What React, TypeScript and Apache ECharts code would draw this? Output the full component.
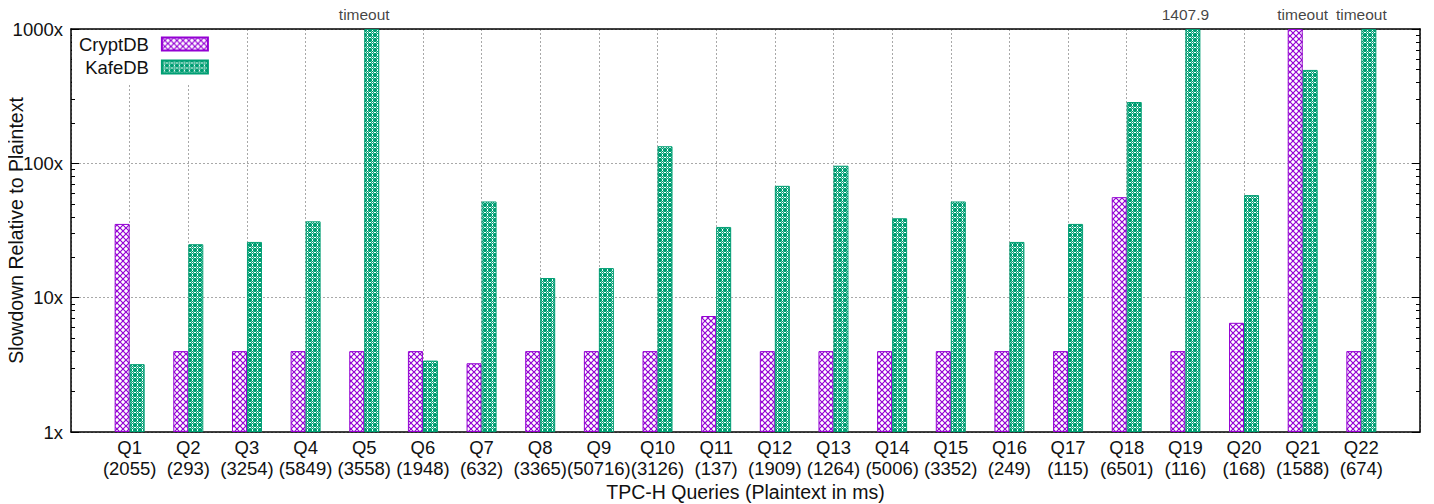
import React, { useEffect, useRef } from "react";
import * as echarts from "echarts";

const queries = ["Q1","Q2","Q3","Q4","Q5","Q6","Q7","Q8","Q9","Q10","Q11","Q12","Q13","Q14","Q15","Q16","Q17","Q18","Q19","Q20","Q21","Q22"];
const plaintextMs = [2055, 293, 3254, 5849, 3558, 1948, 632, 3365, 50716, 3126, 137, 1909, 1264, 5006, 3352, 249, 115, 6501, 116, 168, 1588, 674];
// null = timeout
const cryptdb: (number | null)[] = [35.4, 4, 4, 4, 4, 4, 3.25, 4, 4, 4, 7.3, 4, 4, 4, 4, 4, 4, 56, 4, 6.5, null, 4];
const kafedb: (number | null)[] = [3.2, 25, 26, 37, null, 3.4, 52, 14, 16.6, 134, 33.6, 68, 96, 39, 52, 26, 35.4, 286, 1407.9, 58, 496, null];
const yTicks = [1, 10, 100, 1000];
const yMinorTicks = [2, 3, 4, 5, 6, 7, 8, 9, 20, 30, 40, 50, 60, 70, 80, 90, 200, 300, 400, 500, 600, 700, 800, 900];

const Y_MAX = 1000;
const FONT = "'Liberation Sans', Arial, sans-serif";

function makeCrossHatch(): HTMLCanvasElement {
  const c = document.createElement("canvas");
  c.width = 6; c.height = 6;
  const ctx = c.getContext("2d")!;
  ctx.fillStyle = "#ffffff";
  ctx.fillRect(0, 0, 6, 6);
  ctx.strokeStyle = "#9400d3";
  ctx.lineWidth = 1.2;
  ctx.beginPath();
  ctx.moveTo(-1, -1); ctx.lineTo(7, 7);
  ctx.moveTo(7, -1); ctx.lineTo(-1, 7);
  ctx.stroke();
  return c;
}

function makeDots(): HTMLCanvasElement {
  const c = document.createElement("canvas");
  c.width = 5; c.height = 5;
  const ctx = c.getContext("2d")!;
  ctx.fillStyle = "#009e73";
  ctx.fillRect(0, 0, 5, 5);
  ctx.fillStyle = "#ffffff";
  ctx.fillRect(2, 0, 1, 1);
  ctx.fillRect(0, 2, 1, 1);
  ctx.fillRect(2, 2, 1, 1);
  ctx.fillRect(4, 2, 1, 1);
  ctx.fillRect(2, 4, 1, 1);
  ctx.fillStyle = "rgba(255,255,255,0.45)";
  ctx.fillRect(1, 1, 1, 1);
  ctx.fillRect(3, 3, 1, 1);
  ctx.fillRect(1, 3, 1, 1);
  ctx.fillRect(3, 1, 1, 1);
  return c;
}

export default function App() {
  const ref = useRef<HTMLDivElement>(null);
  useEffect(() => {
    if (!ref.current) return;
    const chart = echarts.init(ref.current, undefined, { renderer: "svg" });
    const cats = ["", ...queries, ""];
    const clamp = (v: number | null) => (v === null ? Y_MAX : Math.min(v, Y_MAX));
    const cryptData = [null, ...cryptdb.map(clamp), null];
    const kafeData = [null, ...kafedb.map(clamp), null];
    const topLabels: any[] = [null];
    queries.forEach((q, i) => {
      const c = cryptdb[i], k = kafedb[i];
      let t = "";
      if (c === null || k === null) t = "timeout";
      else if (c > Y_MAX) t = String(c);
      else if (k > Y_MAX) t = String(k);
      topLabels.push(t ? { value: Y_MAX, label: { formatter: t } } : null);
    });
    topLabels.push(null);

    const cross = { image: makeCrossHatch(), repeat: "repeat" } as any;
    const dots = { image: makeDots(), repeat: "repeat" } as any;

    const gridLine = { show: true, lineStyle: { color: "#a8a8a8", type: [2, 2], width: 1 } };
    const axisLineStyle = { color: "#000", width: 1.5 };
    const hiddenLog = { type: "log", logBase: 10, min: 1, max: Y_MAX };

    chart.setOption({
      animation: false,
      textStyle: { fontFamily: FONT },
      grid: { left: 71, right: 14, top: 29, bottom: 72, containLabel: false, outerBoundsMode: "none" },
      legend: {
        left: 72,
        top: 30,
        padding: [4, 7, 6, 7],
        backgroundColor: "#ffffff",
        orient: "vertical",
        align: "right",
        itemWidth: 46,
        itemHeight: 13,
        itemGap: 3,
        textStyle: { fontFamily: FONT, fontSize: 18.5, lineHeight: 20, color: "#111", padding: [0, 8, 0, 0] },
        data: [
          { name: "CryptDB", icon: "rect" },
          { name: "KafeDB", icon: "rect" },
        ],
      },
      xAxis: [
        {
          type: "category",
          data: cats,
          boundaryGap: false,
          name: "TPC-H Queries (Plaintext in ms)",
          nameLocation: "middle",
          nameGap: 50,
          nameMoveOverlap: false,
          nameTextStyle: { fontFamily: FONT, fontSize: 19.5, color: "#111" },
          axisLine: { lineStyle: axisLineStyle },
          axisTick: { show: false },
          splitLine: gridLine,
          axisLabel: {
            interval: 0,
            margin: 5,
            fontFamily: FONT,
            fontSize: 18.5,
            color: "#111",
            lineHeight: 21,
            hideOverlap: false,
            formatter: (v: string, i: number) => (v ? `${v}\n(${plaintextMs[i - 1]})` : ""),
          },
        },
        {
          type: "category",
          data: cats,
          boundaryGap: false,
          position: "top",
          axisLine: { lineStyle: axisLineStyle },
          axisTick: { show: false },
          axisLabel: { show: false },
          splitLine: { show: false },
        },
      ],
      yAxis: [
        {
          ...hiddenLog,
          name: "Slowdown Relative to Plaintext",
          nameLocation: "middle",
          nameGap: 45,
          nameMoveOverlap: false,
          nameTextStyle: { fontFamily: FONT, fontSize: 19.5, color: "#111" },
          axisLine: { show: true, lineStyle: axisLineStyle },
          axisTick: { show: true, inside: true, length: 8, lineStyle: { color: "#000" } },
          splitLine: gridLine,
          axisLabel: {
            margin: 8,
            fontFamily: FONT,
            fontSize: 18.5,
            color: "#111",
            customValues: yTicks,
            formatter: (v: number) => `${Math.round(v)}x`,
          },
        },
        {
          ...hiddenLog,
          position: "right",
          axisLine: { show: true, lineStyle: axisLineStyle },
          axisTick: { show: true, inside: true, length: 8, lineStyle: { color: "#000" } },
          axisLabel: { show: false },
          splitLine: { show: false },
        },
        {
          ...hiddenLog,
          position: "left",
          axisLine: { show: false },
          axisTick: { show: true, inside: true, length: 4, customValues: yMinorTicks, lineStyle: { color: "#000" } },
          axisLabel: { show: false },
          splitLine: { show: false },
        },
        {
          ...hiddenLog,
          position: "right",
          axisLine: { show: false },
          axisTick: { show: true, inside: true, length: 4, customValues: yMinorTicks, lineStyle: { color: "#000" } },
          axisLabel: { show: false },
          splitLine: { show: false },
        },
      ],
      series: [
        {
          name: "CryptDB",
          type: "bar",
          data: cryptData,
          barWidth: 15,
          barGap: "0%",
          itemStyle: { color: cross, borderColor: "#9400d3", borderWidth: 1 },
        },
        {
          name: "KafeDB",
          type: "bar",
          data: kafeData,
          barWidth: 15,
          barGap: "0%",
          itemStyle: { color: dots, borderColor: "#009e73", borderWidth: 1 },
        },
        {
          name: "labels",
          type: "scatter",
          data: topLabels,
          symbolSize: 0,
          silent: true,
          label: {
            show: true,
            position: "top",
            distance: 7,
            fontFamily: FONT,
            fontSize: 15.5,
            color: "#111",
          },
          z: 10,
        },
      ],
    });
    return () => chart.dispose();
  }, []);
  return <div ref={ref} style={{ width: 1434, height: 504, marginLeft: -8, marginTop: -8 }} />;
}
